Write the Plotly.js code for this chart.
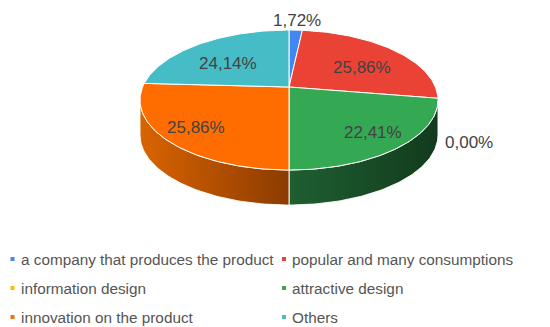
<!DOCTYPE html>
<html><head><meta charset="utf-8">
<script src="https://cdn.plot.ly/plotly-3.0.1.min.js"></script>
<style>html,body{margin:0;padding:0;background:#fff}#chart{width:550px;height:327px}</style>
</head><body><div id="chart"></div>
<script>
// ---- data ----
const categories = ["a company that produces the product", "popular and many consumptions", "information design", "attractive design", "innovation on the product", "Others"];
const counts = [1, 15, 0, 13, 15, 14];
const colors = ["#4285F4", "#EA4335", "#FBBC04", "#34A853", "#FF6D01", "#46BDC6"];
const sideLeft = ["#2a5db0", "#a82f25", "#b38603", "#1f5f31", "#d96400", "#2f8a91"];
const sideRight = ["#1c3f78", "#6f1f18", "#7a5b02", "#123b1d", "#8c3b00", "#1d5a5f"];

// ---- geometry (layout constants) ----
const CX = 289, CY = 87, A = 146.4, B = 67.6, P = 0.186, D = 35;
const FONT = "Liberation Sans, Arial, sans-serif";

function proj(theta, r) {
  const t = theta * Math.PI / 180;
  const u = r * Math.sin(t), v = r * Math.cos(t);
  const w = 1 + P * v;
  return [CX + A * u / w, CY - B * v / w];
}
function labelProj(theta, r) {
  const t = theta * Math.PI / 180;
  const u = r * Math.sin(t), v = r * Math.cos(t);
  const w = 1 + 0.35 * v;
  return [CX + A * u / w, 91 - 61.4 * v / w];
}
function arc(a, b, r, dy) {
  const n = Math.max(2, Math.ceil(Math.abs(b - a)));
  const xs = [], ys = [];
  for (let i = 0; i <= n; i++) {
    const th = a + (b - a) * i / n;
    const p = proj(th, r);
    xs.push(p[0]); ys.push(p[1] + dy);
  }
  return [xs, ys];
}

const total = counts.reduce((s, v) => s + v, 0);
const starts = [], ends = [];
let acc = 0;
counts.forEach(v => { starts.push(acc / total * 360); acc += v; ends.push(acc / total * 360); });

const traces = [];
const thR = Math.acos(-P) * 180 / Math.PI, thL = 360 - thR;

// side faces
counts.forEach((v, i) => {
  const a = Math.max(starts[i], thR), b = Math.min(ends[i], thL);
  if (b <= a) return;
  const top = arc(a, b, 1, 0);
  const bot = arc(b, a, 1, D);
  traces.push({
    type: "scatter", mode: "lines", x: top[0].concat(bot[0], [top[0][0]]), y: top[1].concat(bot[1], [top[1][0]]),
    fill: "toself", line: {color: "rgba(255,255,255,0.9)", width: 1},
    fillgradient: {type: "horizontal", colorscale: [[0, sideLeft[i]], [1, sideRight[i]]]},
    hoverinfo: "skip", showlegend: false
  });
});

// top faces
counts.forEach((v, i) => {
  if (v <= 0) return;
  const ar = arc(starts[i], ends[i], 1, 0);
  traces.push({
    type: "scatter", mode: "lines", x: [CX].concat(ar[0], [CX]), y: [CY].concat(ar[1], [CY]),
    fill: "toself", fillcolor: colors[i], line: {color: "#ffffff", width: 1},
    hoverinfo: "skip", showlegend: false, name: categories[i]
  });
});

// value labels
const annotations = [];
counts.forEach((v, i) => {
  const pct = (v / total * 100).toFixed(2).replace(".", ",") + "%";
  const mid = (starts[i] + ends[i]) / 2;
  let pos;
  if (v / total < 0.05) {
    pos = proj(mid, 1.2);
    if (Math.cos(mid * Math.PI / 180) < 0) pos[1] += 1.2 * D;
  } else {
    pos = labelProj(mid, 0.72);
  }
  annotations.push({x: pos[0], y: pos[1], xref: "x", yref: "y", text: pct, showarrow: false,
    xanchor: "center", yanchor: "middle", font: {family: FONT, size: 17, color: "#424242"}});
});

// legend (two columns)
const legX = [12.5, 284], legTextX = [19, 290], legY = [259, 288, 317];
const shapes = [];
categories.forEach((c, i) => {
  const col = i % 2, row = Math.floor(i / 2);
  shapes.push({type: "rect", xref: "x", yref: "y", x0: legX[col] - 2, x1: legX[col] + 2, y0: legY[row] - 2, y1: legY[row] + 2,
    fillcolor: colors[i], line: {width: 0}});
  annotations.push({x: legTextX[col], y: legY[row], xref: "x", yref: "y", text: c, showarrow: false,
    xanchor: "left", yanchor: "middle", font: {family: FONT, size: 15.3, color: "#555555"}});
});

const layout = {
  width: 550, height: 327, margin: {l: 0, r: 0, t: 0, b: 0},
  paper_bgcolor: "#ffffff", plot_bgcolor: "#ffffff", showlegend: false,
  xaxis: {range: [0, 550], visible: false, fixedrange: true},
  yaxis: {range: [327, 0], visible: false, fixedrange: true},
  annotations: annotations, shapes: shapes
};
Plotly.newPlot("chart", traces, layout, {displayModeBar: false, staticPlot: true});
</script>
</body></html>
